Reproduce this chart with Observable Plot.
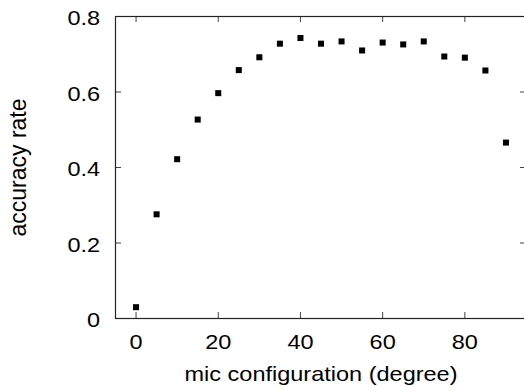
<!DOCTYPE html>
<html>
<head>
<meta charset="utf-8">
<script src="https://cdn.jsdelivr.net/npm/d3@7"></script>
<script src="https://cdn.jsdelivr.net/npm/@observablehq/plot@0.6"></script>
<style>
  html, body { margin: 0; padding: 0; background: #fff; }
  #chart svg { display: block; }
</style>
</head>
<body>
<div id="chart"></div>
<script>
// Data
const angles = [0, 5, 10, 15, 20, 25, 30, 35, 40, 45, 50, 55, 60, 65, 70, 75, 80, 85, 90];
const accuracy = [0.030, 0.276, 0.422, 0.527, 0.597, 0.658, 0.692, 0.728, 0.743, 0.728, 0.734, 0.710, 0.731, 0.726, 0.734, 0.694, 0.691, 0.657, 0.466];
const xTicks = [0, 20, 40, 60, 80];
const yTicks = [0, 0.2, 0.4, 0.6, 0.8];
const yTickLabels = ["0", "0.2", "0.4", "0.6", "0.8"];
const xLabel = "mic configuration (degree)";
const yLabel = "accuracy rate";

const data = angles.map((a, i) => ({angle: a, acc: accuracy[i]}));

const W = 524, H = 390;
const mL = 115, mR = -2, mT = 16, mB = 72;
const plotW = W - mL - mR, plotH = H - mT - mB;
const tickLen = 6;
const font = "Liberation Sans, Arial, Helvetica, sans-serif";

const plot = Plot.plot({
  width: W,
  height: H,
  marginLeft: mL,
  marginRight: mR,
  marginTop: mT,
  marginBottom: mB,
  style: {fontFamily: font, fontSize: "21px", color: "#000", background: "#fff", overflow: "visible"},
  x: {domain: [-5, 95]},
  y: {domain: [0, 0.8]},
  marks: [
    Plot.axisX({ticks: xTicks, tickSize: 0, tickPadding: 16, fontSize: 21, label: null, tickFormat: d => String(d)}),
    Plot.axisY({ticks: yTicks, tickSize: 0, tickPadding: 15.3, fontSize: 21, label: null, dy: 2,
      tickFormat: d => yTickLabels[yTicks.indexOf(d)]}),
    Plot.tickX(xTicks, {x: d => d, insetTop: plotH - tickLen, stroke: "#444"}),
    Plot.tickX(xTicks, {x: d => d, insetBottom: plotH - tickLen, stroke: "#444"}),
    Plot.tickY(yTicks, {y: d => d, insetRight: plotW - tickLen, stroke: "#444"}),
    Plot.tickY(yTicks, {y: d => d, insetLeft: plotW - tickLen, stroke: "#444"}),
    Plot.frame({stroke: "#222", strokeWidth: 1.2}),
    Plot.dot(data, {x: "angle", y: "acc", symbol: "square", r: 3.4, fill: "#000", stroke: null}),
    Plot.text([xLabel], {frameAnchor: "bottom", textAnchor: "middle", lineAnchor: "top", dy: 48, fontSize: 21, text: d => d, fill: "#000"}),
    Plot.text([yLabel], {frameAnchor: "left", textAnchor: "middle", rotate: -90, dx: -97, dy: 0, fontSize: 23, text: d => d, fill: "#000"})
  ]
});

// horizontal widening of glyphs about each label's anchor, as in the reference rendering
const SX = 1.12;
d3.select(plot)
  .selectAll("text")
  .filter(function() {
    const g = this.parentNode && this.parentNode.getAttribute("aria-label");
    return this.textContent === xLabel || g === "x-axis tick label" || g === "y-axis tick label";
  })
  .each(function() {
    const t = d3.select(this);
    const tr = t.attr("transform") || "";
    let px = +(t.attr("x") || 0);
    const m = /translate\(\s*([-\d.e]+)/.exec(tr);
    if (m) px += +m[1];
    t.attr("transform", `translate(${px},0) scale(${SX},1) translate(${-px},0) ${tr}`);
  });

document.getElementById("chart").appendChild(plot);
</script>
</body>
</html>
